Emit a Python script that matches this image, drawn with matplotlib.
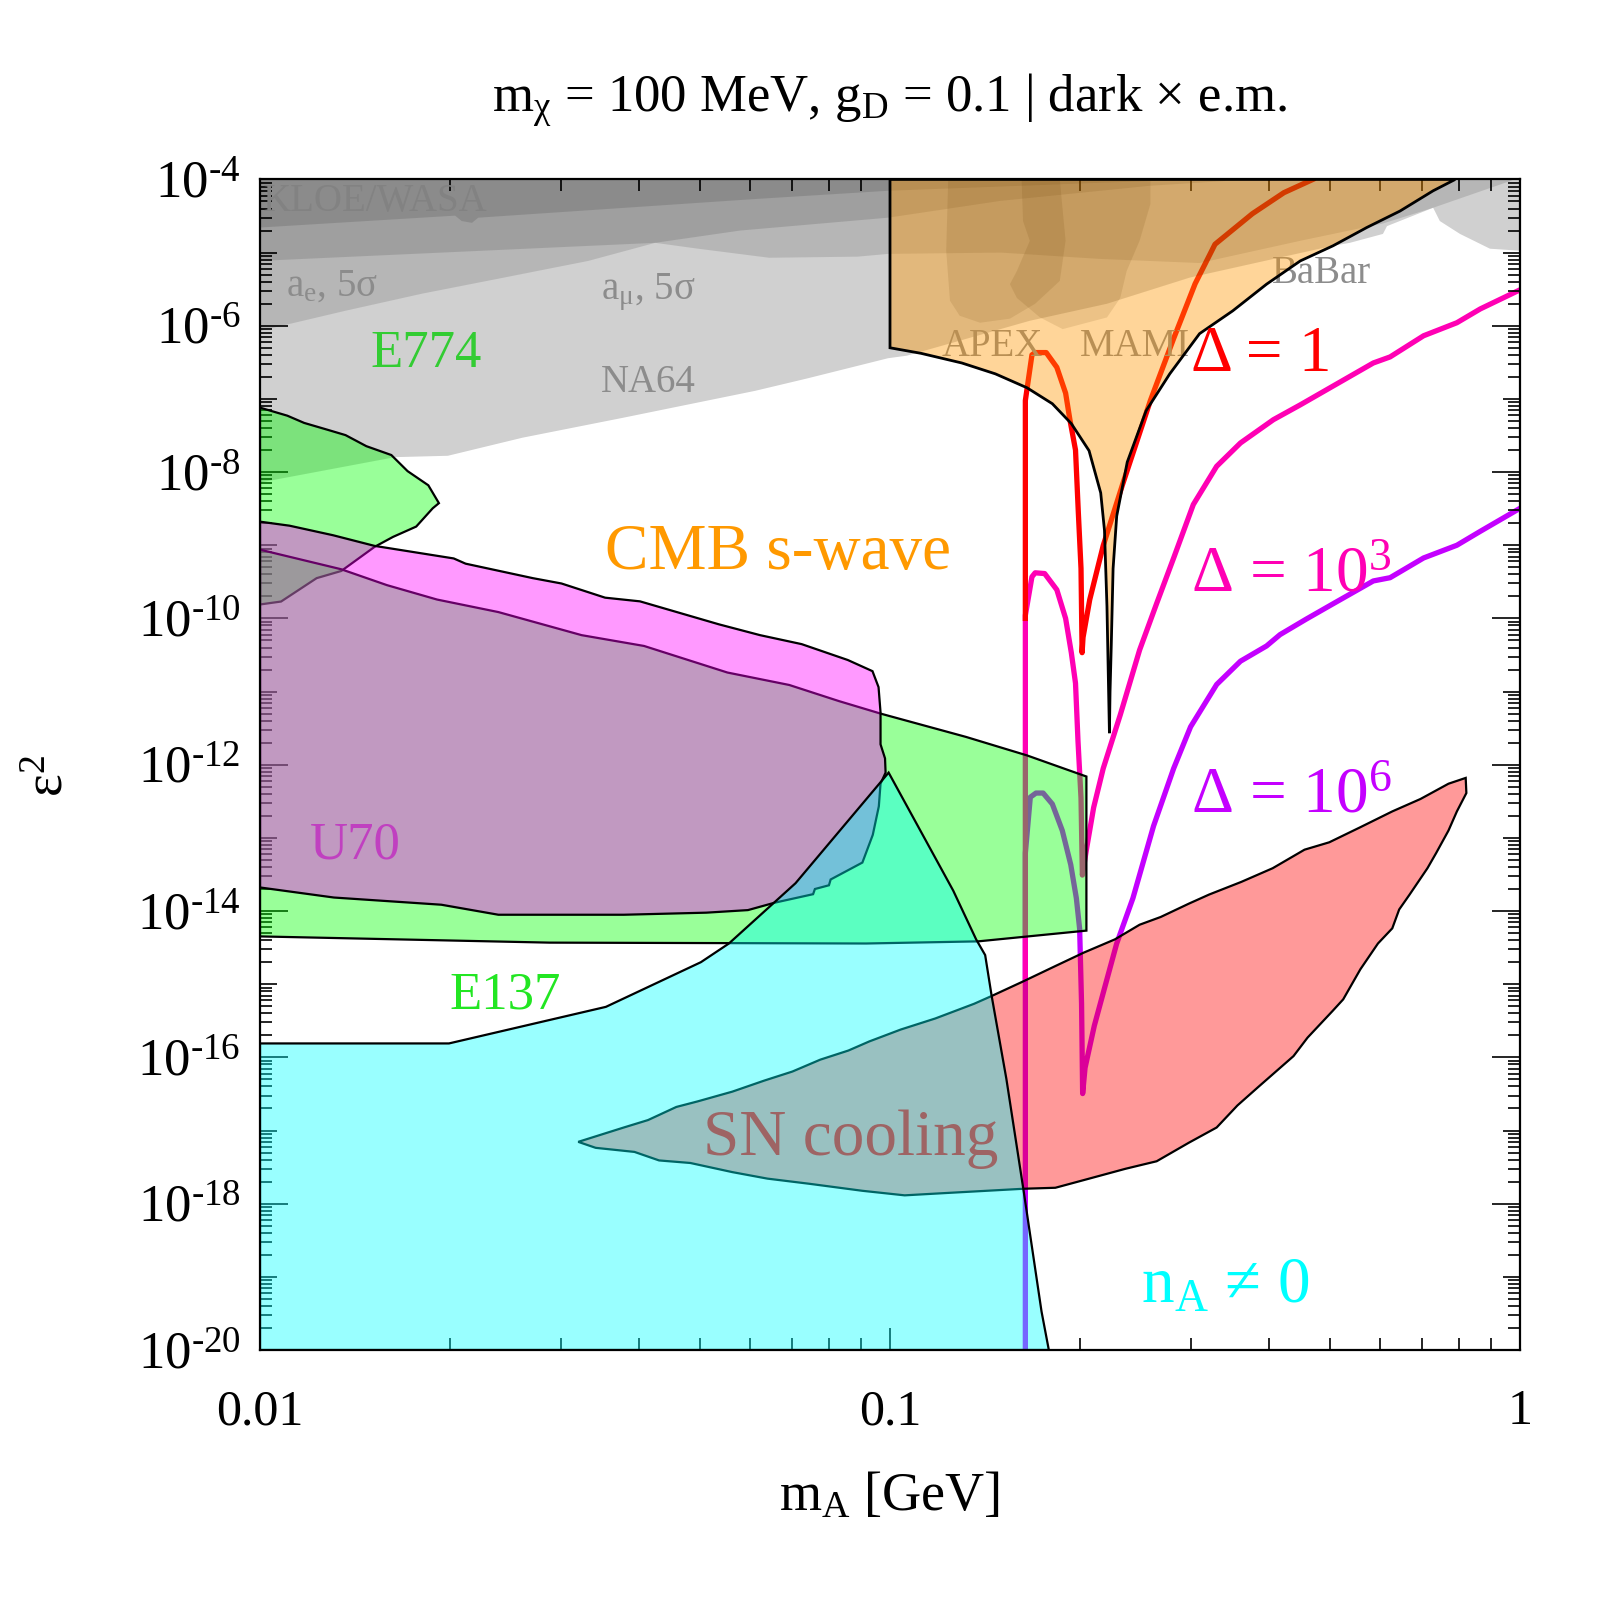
import numpy as np
import matplotlib
matplotlib.use('Agg')
import matplotlib.pyplot as plt
from matplotlib.ticker import FixedLocator, FixedFormatter, LogLocator, NullFormatter

plt.rcParams['font.family'] = ['Liberation Serif', 'DejaVu Serif']
plt.rcParams['mathtext.fontset'] = 'custom'
plt.rcParams['mathtext.rm'] = 'Liberation Serif'
plt.rcParams['mathtext.it'] = 'Liberation Serif:italic'
plt.rcParams['mathtext.bf'] = 'Liberation Serif:bold'

# ---------------- data: m_A [GeV], eps^2 ----------------
# gray bounds
na64_m = [0.01, 0.01638, 0.01987, 0.0261, 0.0376, 0.0611, 0.0738, 0.0993, 0.1064, 0.1667, 0.221,
          0.299, 0.396, 0.505, 0.537, 0.606, 0.615, 0.728, 0.746, 0.803, 0.896, 1.0, 1.0, 0.01]
na64_e = [7.2e-9, 1.6e-8, 1.67e-8, 2.95e-8, 5.5e-8, 1.29e-7, 1.9e-7, 3.6e-7, 3.9e-7, 1.17e-6, 2.0e-6,
          4.55e-6, 7.8e-6, 1.24e-5, 1.36e-5, 1.8e-5, 2.3e-5, 4.1e-5, 2.7e-5, 1.8e-5, 1.13e-5, 1.06e-5, 1e-4, 1e-4]

ae_m = [0.01, 0.01365, 0.0181, 0.0239, 0.0332, 0.0424, 0.0578, 0.0993, 0.150, 0.259, 0.372, 0.01]
ae_e = [8.5e-7, 1.6e-6, 2.75e-6, 4.4e-6, 7.7e-6, 1.36e-5, 2.0e-5, 3.0e-5, 5.1e-5, 8.2e-5, 1e-4, 1e-4]

amu_m = [0.01, 0.0424, 0.0496, 0.0643, 0.0888, 0.0993, 0.150, 0.215, 0.310, 0.448, 0.606, 0.728,
         0.968, 0.978, 0.01]
amu_e = [7.7e-6, 1.36e-5, 1.13e-5, 8.5e-6, 8.8e-6, 9.6e-6, 1.0e-5, 8.2e-6, 7.2e-6, 1.45e-5, 2.5e-5,
         4.1e-5, 9.6e-5, 1e-4, 1e-4]

kloe_m = [0.01, 0.0204, 0.0209, 0.0217, 0.0222, 0.0611, 0.0993, 0.215, 0.31, 0.01]
kloe_e = [2.2e-5, 3.2e-5, 2.7e-5, 2.55e-5, 3.0e-5, 5.4e-5, 7.0e-5, 9.0e-5, 1e-4, 1e-4]

apex_m = [0.1237, 0.1228, 0.1245, 0.129, 0.139, 0.155, 0.170, 0.186, 0.190, 0.186]
apex_e = [1e-4, 1.06e-5, 2.2e-6, 1.37e-6, 1.1e-6, 1.25e-6, 2.0e-6, 4.1e-6, 1.45e-5, 1e-4]

mami_m = [0.1618, 0.1626, 0.1667, 0.159, 0.155, 0.159, 0.173, 0.188, 0.221, 0.232, 0.2375, 0.249,
          0.259, 0.259]
mami_e = [1e-4, 2.7e-5, 1.45e-5, 5.6e-6, 3.7e-6, 2.4e-6, 1.3e-6, 9.0e-7, 1.3e-6, 2.4e-6, 5.6e-6,
          1.45e-5, 4.6e-5, 1e-4]

# CMB s-wave
cmb_m = [0.1, 0.1, 0.112, 0.130, 0.147, 0.165, 0.181, 0.194, 0.207, 0.216, 0.219, 0.221, 0.223,
         0.2235, 0.2245, 0.226, 0.229, 0.238, 0.255, 0.278, 0.310, 0.350, 0.396, 0.448, 0.505, 0.571,
         0.645, 0.728, 0.789]
cmb_e = [1e-4, 5.0e-7, 4.2e-7, 3.1e-7, 2.2e-7, 1.42e-7, 8.6e-8, 4.6e-8, 1.96e-8, 5.2e-9, 1.6e-9,
         1.45e-10, 2.7e-12, 1.0e-11, 4.3e-11, 4.8e-10, 2.5e-9, 1.37e-8, 6.9e-8, 2.2e-7, 7.8e-7,
         1.6e-6, 3.7e-6, 7.7e-6, 1.24e-5, 2.2e-5, 3.7e-5, 7.0e-5, 1e-4]

# E774
e774_m = [0.01, 0.01105, 0.01175, 0.01285, 0.01367, 0.01475, 0.01616, 0.01715, 0.0185, 0.01923,
          0.0188, 0.0177, 0.01626, 0.0152, 0.01346, 0.0123, 0.0108, 0.01]
e774_e = [7.6e-8, 5.9e-8, 4.7e-8, 3.75e-8, 3.2e-8, 2.26e-8, 1.71e-8, 1.03e-8, 6.6e-9, 3.76e-9,
          3.2e-9, 1.8e-9, 1.3e-9, 9.5e-10, 4.45e-10, 3.55e-10, 1.7e-10, 1.55e-10]

# E137
e137_m = [0.01, 0.01345, 0.0159, 0.0191, 0.0239, 0.0324, 0.0407, 0.0552, 0.0692, 0.083, 0.0966,
          0.132, 0.165, 0.205, 0.205, 0.138, 0.0916, 0.0288, 0.01]
e137_e = [8.7e-10, 4.7e-10, 2.85e-10, 1.81e-10, 1.22e-10, 5.9e-11, 4.2e-11, 1.82e-11, 1.23e-11,
          7.4e-12, 5.0e-12, 2.4e-12, 1.34e-12, 6.9e-13, 5.4e-15, 3.85e-15, 3.6e-15, 3.7e-15, 4.5e-15]

# U70
u70_m = [0.01, 0.01114, 0.01306, 0.0152, 0.0203, 0.0212, 0.0271, 0.0301, 0.0353, 0.0401, 0.0535,
         0.0622, 0.0724, 0.0857, 0.0938, 0.0959, 0.0966, 0.0966, 0.0982, 0.0984, 0.0966, 0.0960,
         0.0939, 0.0904, 0.0805, 0.0800, 0.0760, 0.0755, 0.0656, 0.0595, 0.0511, 0.0378, 0.0239,
         0.0194, 0.0131, 0.01]
u70_e = [2.1e-9, 1.85e-9, 1.37e-9, 9.8e-10, 6.6e-10, 5.6e-10, 3.55e-10, 3.0e-10, 1.92e-10, 1.71e-10,
         8.3e-11, 5.9e-11, 4.45e-11, 2.7e-11, 1.9e-11, 1.15e-11, 5.2e-12, 1.9e-12, 1.22e-12, 7.8e-13,
         5.5e-13, 2.7e-13, 1.1e-13, 4.6e-14, 2.7e-14, 2.25e-14, 2.0e-14, 1.7e-14, 1.3e-14, 1.03e-14,
         9.5e-15, 8.9e-15, 8.9e-15, 1.22e-14, 1.53e-14, 2.1e-14]

# SN cooling
sn_m = [0.0320, 0.0378, 0.0413, 0.0458, 0.0495, 0.0562, 0.0631, 0.0700, 0.0775, 0.0859, 0.0927,
        0.104, 0.118, 0.136, 0.145, 0.163, 0.183, 0.203, 0.2275, 0.249, 0.269, 0.298, 0.321, 0.361,
        0.405, 0.455, 0.498, 0.558, 0.627, 0.695, 0.770, 0.820, 0.822, 0.794, 0.770, 0.736, 0.713,
        0.668, 0.643, 0.627, 0.595, 0.558, 0.524, 0.504, 0.460, 0.437, 0.385, 0.356, 0.330, 0.298,
        0.265, 0.2365, 0.203, 0.183, 0.163, 0.123, 0.1055, 0.0904, 0.0745, 0.0639, 0.0562, 0.0482,
        0.0430, 0.0393, 0.0341]
sn_e = [7.0e-18, 1.1e-17, 1.39e-17, 2.1e-17, 2.5e-17, 3.4e-17, 4.8e-17, 6.4e-17, 9.3e-17, 1.24e-16,
        1.65e-16, 2.4e-16, 3.4e-16, 5.4e-16, 6.9e-16, 1.1e-15, 1.77e-15, 2.7e-15, 4.1e-15, 6.5e-15,
        8.3e-15, 1.26e-14, 1.68e-14, 2.5e-14, 3.85e-14, 6.9e-14, 8.7e-14, 1.4e-13, 2.3e-13, 3.4e-13,
        5.5e-13, 6.6e-13, 4.1e-13, 2.3e-13, 1.26e-13, 6.2e-14, 3.85e-14, 1.68e-14, 1.05e-14, 5.8e-15,
        3.6e-15, 1.6e-15, 6.2e-16, 4.3e-16, 1.86e-16, 1.04e-16, 4.0e-17, 2.2e-17, 1.1e-17, 6.8e-18,
        3.8e-18, 3.0e-18, 2.1e-18, 1.65e-18, 1.6e-18, 1.4e-18, 1.3e-18, 1.5e-18, 1.87e-18, 2.2e-18,
        2.7e-18, 3.6e-18, 3.9e-18, 5.1e-18, 5.8e-18]

# n_A != 0
na_m = [0.01, 0.01995, 0.0354, 0.0501, 0.0555, 0.0708, 0.0995, 0.126, 0.137, 0.1416, 0.145, 0.153,
        0.163, 0.174, 0.1787, 0.01]
na_e = [1.55e-16, 1.55e-16, 4.9e-16, 2.0e-15, 3.6e-15, 2.4e-14, 7.8e-13, 1.9e-14, 4.1e-15, 2.5e-15,
        6.9e-16, 5.1e-17, 1.48e-18, 3.35e-20, 1e-20, 1e-20]

# Delta contours
d1_m = [0.164, 0.164, 0.168, 0.170, 0.177, 0.184, 0.190, 0.193, 0.197, 0.199, 0.201, 0.2018, 0.2025,
        0.2075, 0.218, 0.234, 0.259, 0.282, 0.305, 0.328, 0.376, 0.422, 0.469]
d1_e = [1.0e-10, 9.5e-8, 4.0e-7, 4.3e-7, 4.3e-7, 2.7e-7, 1.2e-7, 5.2e-8, 2.0e-8, 2.9e-9, 4.8e-10,
        3.4e-11, 5.5e-11, 1.8e-10, 9.9e-10, 6.8e-9, 9.5e-8, 6.7e-7, 3.75e-6, 1.3e-5, 3.4e-5, 6.6e-5, 1.0e-4]

d3_m = [0.164, 0.164, 0.168, 0.170, 0.176, 0.184, 0.190, 0.194, 0.197, 0.1988, 0.201, 0.202, 0.205,
        0.2105, 0.218, 0.232, 0.249, 0.265, 0.282, 0.303, 0.330, 0.360, 0.406, 0.448, 0.518, 0.585,
        0.622, 0.703, 0.794, 0.865, 1.0]
d3_e = [1.2e-15, 1.1e-10, 3.7e-10, 4.2e-10, 4.1e-10, 2.46e-10, 1.0e-10, 3.4e-11, 1.3e-11, 2.1e-12,
        3.5e-13, 3.1e-14, 6.9e-14, 2.6e-13, 8.9e-13, 4.8e-12, 3.7e-11, 1.6e-10, 6.7e-10, 3.6e-9,
        1.2e-8, 2.5e-8, 5.2e-8, 8.3e-8, 1.7e-7, 3.1e-7, 3.75e-7, 7.3e-7, 1.1e-6, 1.7e-6, 3.1e-6]

d6_m = [0.164, 0.164, 0.167, 0.1705, 0.175, 0.181, 0.1877, 0.1936, 0.1976, 0.200, 0.2014, 0.2022,
        0.204, 0.211, 0.219, 0.229, 0.243, 0.262, 0.282, 0.300, 0.330, 0.360, 0.396, 0.416, 0.458,
        0.506, 0.585, 0.622, 0.703, 0.794, 0.865, 1.0]
d6_e = [1e-20, 6.2e-14, 3.6e-13, 4.1e-13, 4.1e-13, 2.9e-13, 1.26e-13, 4.3e-14, 1.5e-14, 5.7e-15,
        5.4e-16, 3.2e-17, 7.2e-17, 2.7e-16, 8.8e-16, 3.6e-15, 1.5e-14, 1.45e-13, 8.9e-13, 3.3e-12,
        1.25e-11, 2.6e-11, 4.2e-11, 6.0e-11, 9.8e-11, 1.6e-10, 3.25e-10, 3.6e-10, 6.7e-10, 1.0e-9,
        1.55e-9, 3.2e-9]

# colours
A = 0.4
c_green = (0, 1, 0, A)
c_magenta = (1, 0, 1, A)
c_cyan = (0, 1, 1, A)
c_red = (1, 0, 0, A)
c_orange = (1, 150 / 255, 0, A)
c_na64 = (0, 0, 0, 0.185)
c_gray = (0, 0, 0, 0.12)
col_d1, col_d3, col_d6 = '#ff0000', '#ff00b4', '#c400ff'

fig = plt.figure(figsize=(8, 8), dpi=200)
ax = fig.add_axes([0.1625, 0.15625, 0.7875, 0.7316])
ax.set_xscale('log')
ax.set_yscale('log')

# contour lines sit under the shaded regions
ax.plot(d6_m, d6_e, color=col_d6, lw=1.9, zorder=1)
ax.plot(d3_m, d3_e, color=col_d3, lw=1.9, zorder=1.1)
ax.plot(d1_m, d1_e, color=col_d1, lw=1.9, zorder=1.2)

ax.fill(na64_m, na64_e, facecolor=c_na64, edgecolor='none', zorder=2)
for mm, ee in [(ae_m, ae_e), (amu_m, amu_e), (kloe_m, kloe_e), (apex_m, apex_e), (mami_m, mami_e)]:
    ax.fill(mm, ee, facecolor=c_gray, edgecolor='none', zorder=2.1)

gtxt = dict(color='#8c8c8c', fontsize=14, zorder=2.5, va='baseline')
ax.text(0.0101, 3.7e-5, 'KLOE/WASA', color='#828282', fontsize=14, zorder=2.5, va='baseline')
ax.text(0.011, 2.6e-6, r'$\mathrm{a_{e}}$, 5σ', **gtxt)
ax.text(0.0348, 2.3e-6, r'$\mathrm{a_{μ}}$, 5σ', **gtxt)
ax.text(0.0348, 1.23e-7, 'NA64', **gtxt)
ax.text(0.1208, 3.9e-7, 'APEX', **gtxt)
ax.text(0.2003, 3.9e-7, 'MAMI', **gtxt)
ax.text(0.4036, 3.9e-6, 'BaBar', **gtxt)

ax.fill(cmb_m, cmb_e, facecolor=c_orange, edgecolor='k', lw=1.0, zorder=3)
ax.fill(e774_m, e774_e, facecolor=c_green, edgecolor='k', lw=0.8, zorder=3.1)
ax.fill(e137_m, e137_e, facecolor=c_green, edgecolor='k', lw=0.8, zorder=3.2)
ax.fill(u70_m, u70_e, facecolor=c_magenta, edgecolor='k', lw=0.8, zorder=3.3)
ax.fill(sn_m, sn_e, facecolor=c_red, edgecolor='k', lw=0.8, zorder=3.4)
ax.fill(na_m, na_e, facecolor=c_cyan, edgecolor='k', lw=0.8, zorder=3.5)

big = dict(fontsize=23.5, zorder=10, va='baseline')
ax.text(0.0353, 4.7e-10, 'CMB s-wave', color='#ff9900', **big)
ax.text(0.301, 2.4e-7, 'Δ = 1', color=col_d1, **big)
ax.text(0.301, 2.4e-10, 'Δ = 10$^{3}$', color=col_d3, **big)
ax.text(0.301, 2.3e-13, 'Δ = 10$^{6}$', color=col_d6, **big)
ax.text(0.0505, 4.6e-18, 'SN cooling', color='#9e6464', **big)
ax.text(0.250, 4.5e-20, r'$\mathrm{n_{A}}$ ≠ 0', color='#00ffff', **big)
ax.text(0.01496, 2.7e-7, 'E774', color='#33cc33', fontsize=19, zorder=10, va='baseline')
ax.text(0.01995, 4.7e-16, 'E137', color='#22e622', fontsize=19, zorder=10, va='baseline')
ax.text(0.012, 5.2e-14, 'U70', color='#c040c0', fontsize=19, zorder=10, va='baseline')

ax.set_xlim(0.01, 1)
ax.set_ylim(1e-20, 1e-4)

ax.xaxis.set_major_locator(FixedLocator([0.01, 0.1, 1]))
ax.xaxis.set_major_formatter(FixedFormatter(['0.01', '0.1', '1']))
ax.xaxis.set_minor_locator(LogLocator(base=10, subs=np.arange(2, 10), numticks=50))
ax.xaxis.set_minor_formatter(NullFormatter())

ydec = np.arange(-20, -3)
ax.yaxis.set_major_locator(FixedLocator(10.0 ** ydec))
ax.yaxis.set_major_formatter(FixedFormatter(
    [r'$\mathrm{10^{\text{-}%d}}$' % -d if d % 2 == 0 else '' for d in ydec]))
ax.yaxis.set_minor_locator(LogLocator(base=10, subs=np.arange(2, 10), numticks=50))
ax.yaxis.set_minor_formatter(NullFormatter())

ax.tick_params(which='both', direction='in', top=True, right=True, width=0.6)
ax.tick_params(axis='y', labelsize=19)
ax.tick_params(axis='x', labelsize=18)
ax.tick_params(which='major', length=8)
ax.tick_params(which='minor', length=4.3)
ax.tick_params(axis='x', which='major', pad=14)
ax.tick_params(axis='y', which='major', pad=7)
for t, d in zip(ax.yaxis.get_major_ticks(), ydec):
    L = 10 if d % 2 == 0 else 6
    t.tick1line.set_markersize(L)
    t.tick2line.set_markersize(L)
for s in ax.spines.values():
    s.set_linewidth(0.8)

fig.text(0.556, 0.930, r'$\mathrm{m_{χ}}$ = 100 MeV, $\mathrm{g_{D}}$ = 0.1 | dark × e.m.',
         ha='center', va='baseline', fontsize=19)
fig.text(0.556, 0.0644, r'$\mathrm{m_{A}}$ [GeV]', ha='center', va='center', fontsize=19.5)
fig.text(0.031, 0.515, r'$\mathrm{ε^{2}}$', ha='center', va='center', rotation=90, fontsize=19.5)

fig.savefig('out.png', dpi=200)
